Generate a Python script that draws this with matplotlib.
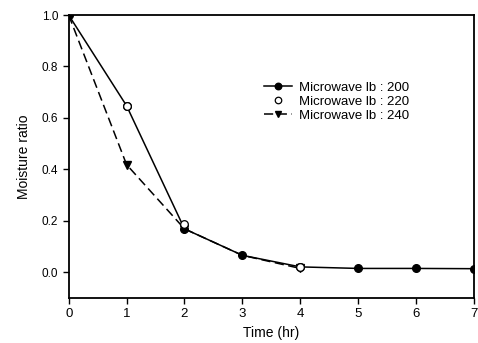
import matplotlib
matplotlib.use("Agg")
import matplotlib.pyplot as plt

plt.rcParams['font.family'] = ['Liberation Sans', 'DejaVu Sans']

# drying time (hr)
time_200 = [0, 1, 2, 3, 4, 5, 6, 7]
mr_200 = [1.0, 0.647, 0.168, 0.065, 0.02, 0.014, 0.014, 0.013]

# only the points that show in the picture
time_220 = [1, 2, 4]
mr_220 = [0.647, 0.188, 0.021]

time_240 = [0, 1, 2, 3, 4]
mr_240 = [1.0, 0.418, 0.168, 0.065, 0.014]

labels = ['Microwave lb : 200', 'Microwave lb : 220', 'Microwave lb : 240']

fig = plt.figure(figsize=(4.78, 3.43), dpi=100)
ax = fig.add_axes([0.1437, 0.132, 0.8479, 0.824])

# triangles hidden under the circles at 0 and 3 in the original
l240, = ax.plot(time_240, mr_240, linestyle=(0, (6, 3)), color='k', lw=1.1,
                marker='v', ms=5.5, mfc='k', mec='k', zorder=2,
                markevery=[1, 2, 4])
l200, = ax.plot(time_200, mr_200, linestyle='-', color='k', lw=1.1,
                marker='o', ms=5.5, mfc='k', mec='k', zorder=3)
l220, = ax.plot(time_220, mr_220, linestyle='none', color='k',
                marker='o', ms=5.5, mfc='white', mec='k', mew=0.9, zorder=4)

ax.set_xlim(0, 7)
ax.set_ylim(-0.1, 1.0)
ax.set_xticks(range(0, 8))
ax.set_yticks([0.0, 0.2, 0.4, 0.6, 0.8, 1.0])
ax.set_yticklabels(['0.0', '0.2', '0.4', '0.6', '0.8', '1.0'])
ax.tick_params(axis='both', direction='out', length=4, width=1, labelsize=8.5)
ax.tick_params(axis='x', labelsize=9.5)
for sp in ax.spines.values():
    sp.set_linewidth(1.3)

ax.set_xlabel('Time (hr)', fontsize=10)
ax.set_ylabel('Moisture ratio', fontsize=10, labelpad=8)

fig.legend([l200, l220, l240], labels, loc='upper left',
           bbox_to_anchor=(0.552, 0.762), frameon=False, fontsize=9.5,
           borderpad=0, borderaxespad=0, labelspacing=0.12,
           handlelength=2.1, handletextpad=0.6, markerscale=0.85)

fig.savefig('out.png', dpi=100)
